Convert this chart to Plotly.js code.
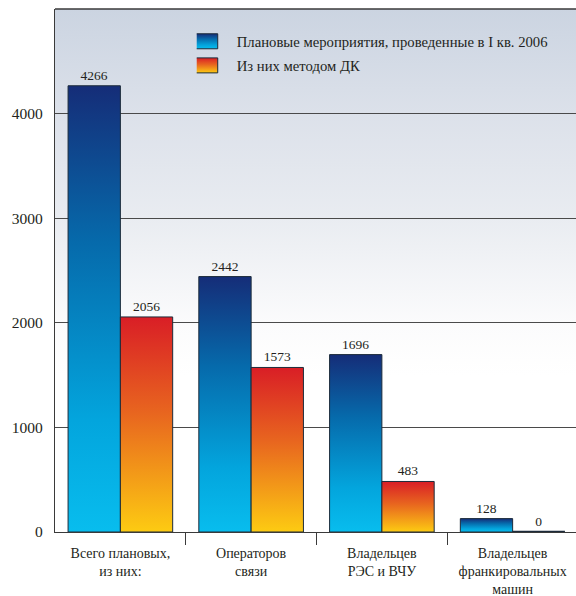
<!DOCTYPE html>
<html><head><meta charset="utf-8">
<script src="https://cdn.plot.ly/plotly-3.0.1.min.js"></script>
<style>html,body{margin:0;padding:0;overflow:hidden;background:#fff}</style>
</head><body><div id="chart" style="width:578px;height:596px"></div>
<script>
const categories = ["Всего плановых,<br>из них:", "Операторов<br>связи", "Владельцев<br>РЭС и ВЧУ", "Владельцев<br>франкировальных<br>машин"];
const plannedValues = [4266, 2442, 1696, 128];
const dkValues = [2056, 1573, 483, 0];
const seriesNames = ["Плановые мероприятия, проведенные в I кв. 2006", "Из них методом ДК"];
const yTickValues = [0, 1000, 2000, 3000, 4000];
const boundaryTicks = [0.5, 1.5, 2.5];

const FONT = "Liberation Serif, Times New Roman, serif";
const TXT = "#231f20";

const data = [
  {type:'bar', x:categories, y:plannedValues, name:seriesNames[0], legendgroup:'a',
   text:plannedValues.map(String), textposition:'outside', cliponaxis:false,
   textfont:{family:FONT, size:13.5, color:TXT},
   marker:{color:'#0a6aaa', line:{color:'#1c2b3a', width:1}}},
  {type:'bar', x:categories, y:dkValues, name:seriesNames[1], legendgroup:'b',
   text:dkValues.map(String), textposition:'outside', cliponaxis:false,
   textfont:{family:FONT, size:13.5, color:TXT},
   marker:{color:'#e8651f', line:{color:'#1c2b3a', width:dkValues.map(v => v === 0 ? 2.5 : 1)}}},
  {type:'scatter', x:boundaryTicks, y:[0,0,0], xaxis:'x2', mode:'none', showlegend:false, hoverinfo:'skip'}
];

const layout = {
  width:578, height:596,
  margin:{l:55, r:0, t:9, b:64},
  paper_bgcolor:'#ffffff', plot_bgcolor:'rgba(0,0,0,0)',
  barmode:'group', bargap:0.2, bargroupgap:0,
  font:{family:FONT, color:TXT},
  showlegend:true,
  legend:{x:0.271, y:0.969, xanchor:'left', yanchor:'top', bgcolor:'rgba(0,0,0,0)',
    font:{family:FONT, size:14.7, color:TXT}, traceorder:'grouped', tracegroupgap:2},
  xaxis:{type:'category', showgrid:false, ticks:'', showline:true, linecolor:'#3a3a3a', linewidth:1.2,
    tickfont:{family:FONT, size:14, color:TXT}, ticklabelstandoff:8, range:[-0.5,3.5]},
  xaxis2:{overlaying:'x', range:[-0.5,3.5], tickvals:boundaryTicks, showticklabels:false,
    ticks:'outside', ticklen:12, tickcolor:'#3a3a3a', tickwidth:1.2, showgrid:false, zeroline:false, side:'bottom'},
  yaxis:{range:[0,5000], tickvals:yTickValues, ticktext:yTickValues.map(String), showgrid:true,
    gridcolor:'#4a4a4a', gridwidth:1, zeroline:false, showline:true, linecolor:'#3a3a3a', linewidth:1.2,
    ticks:'', tickfont:{family:FONT, size:15.5, color:TXT}, ticklabelstandoff:8},
  shapes:[{type:'line', xref:'paper', yref:'paper', x0:0, x1:1, y0:1, y1:1, line:{color:'#3a3a3a', width:1.5}}]
};

Plotly.newPlot('chart', data, layout, {staticPlot:true}).then(gd => {
  const NS = 'http://www.w3.org/2000/svg';
  const svg = gd.querySelector('svg.main-svg');
  const defs = document.createElementNS(NS, 'defs');
  function grad(id, stops){
    const g = document.createElementNS(NS, 'linearGradient');
    g.setAttribute('id', id);
    g.setAttribute('x1','0'); g.setAttribute('y1','0'); g.setAttribute('x2','0'); g.setAttribute('y2','1');
    stops.forEach(([o,c]) => {
      const s = document.createElementNS(NS, 'stop');
      s.setAttribute('offset', o); s.setAttribute('stop-color', c);
      g.appendChild(s);
    });
    defs.appendChild(g);
  }
  grad('gBlue', [['0','#152d78'],['0.35','#066aab'],['0.75','#03a5dd'],['1','#08bdee']]);
  grad('gOrange', [['0','#d91e26'],['0.45','#e8661f'],['1','#fdcb12']]);
  grad('gBg', [['0','#cbd4e1'],['0.2','#dce1ea'],['0.4','#e9ecf1'],['0.6','#fbfbfc'],['0.7','#ffffff'],['1','#ffffff']]);
  svg.insertBefore(defs, svg.firstChild);

  // plot-area background gradient, placed under the gridlines
  const xa = gd._fullLayout.xaxis, ya = gd._fullLayout.yaxis;
  const cart = gd.querySelector('.cartesianlayer');
  const r = document.createElementNS(NS, 'rect');
  r.setAttribute('x', xa._offset); r.setAttribute('y', ya._offset);
  r.setAttribute('width', xa._length); r.setAttribute('height', ya._length);
  r.setAttribute('fill', 'url(#gBg)');
  cart.parentNode.insertBefore(r, cart);

  const traces = gd.querySelectorAll('.barlayer .trace');
  const fills = ['url(#gBlue)', 'url(#gOrange)'];
  traces.forEach((t, i) => {
    t.querySelectorAll('.point path').forEach(p => { p.style.fill = fills[i]; });
  });
  const leg = gd.querySelectorAll('.legend .traces');
  leg.forEach((t, i) => {
    const p = t.querySelector('.legendpoints path');
    if (p) {
      p.setAttribute('d', 'M1,7.5H-30V-7.5H1Z');
      p.style.fill = fills[i];
      p.style.stroke = '#1c2b3a';
      p.style.strokeWidth = '1px';
    }
  });
});
</script>
</body></html>
